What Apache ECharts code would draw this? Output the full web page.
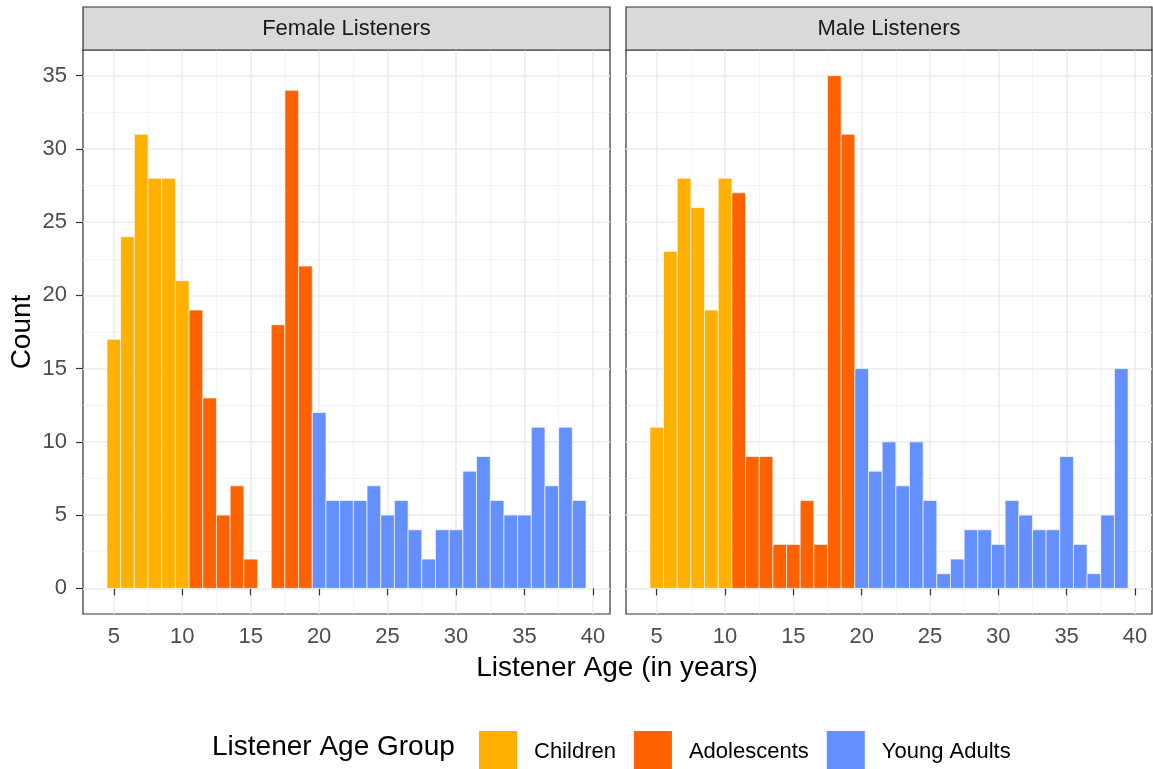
<!DOCTYPE html>
<html>
<head>
<meta charset="utf-8">
<script src="https://cdn.jsdelivr.net/npm/echarts@6/dist/echarts.min.js"></script>
<style>
html,body{margin:0;padding:0;background:#fff;}
#chart{width:1153px;height:769px;}
</style>
</head>
<body>
<div id="chart"></div>
<script>
// ---- data ----
const ages = [5,6,7,8,9,10,11,12,13,14,15,16,17,18,19,20,21,22,23,24,25,26,27,28,29,30,31,32,33,34,35,36,37,38,39];
const ageGroupOf = ['Children','Children','Children','Children','Children','Children',
  'Adolescents','Adolescents','Adolescents','Adolescents','Adolescents','Adolescents','Adolescents','Adolescents','Adolescents',
  'Young Adults','Young Adults','Young Adults','Young Adults','Young Adults','Young Adults','Young Adults','Young Adults','Young Adults','Young Adults',
  'Young Adults','Young Adults','Young Adults','Young Adults','Young Adults','Young Adults','Young Adults','Young Adults','Young Adults','Young Adults'];
const femaleCounts = [17,24,31,28,28,21,19,13,5,7,2,0,18,34,22,12,6,6,6,7,5,6,4,2,4,4,8,9,6,5,5,11,7,11,6];
const maleCounts   = [11,23,28,26,19,28,27,9,9,3,3,6,3,35,31,15,8,10,7,10,6,1,2,4,4,3,6,5,4,4,9,3,1,5,15];
const groups = ['Children','Adolescents','Young Adults'];
const groupColors = ['#FFB000','#FE6100','#648FFF'];
const panels = ['Female Listeners','Male Listeners'];
const xTicks = [5,10,15,20,25,30,35,40];
const xMinor = [7.5,12.5,17.5,22.5,27.5,32.5,37.5];
const yTicks = [0,5,10,15,20,25,30,35];
const yMinor = [2.5,7.5,12.5,17.5,22.5,27.5,32.5];

const FONT = '"Liberation Sans", Arial, Helvetica, sans-serif';
const chart = echarts.init(document.getElementById('chart'), null, {renderer:'canvas'});

const gridBoxes = [
  {left:83, top:50, width:527, height:564},
  {left:626, top:50, width:526, height:564}
];
const xMin = 2.75, xMax = 41.25, yMin = -1.75, yMax = 36.75;

const grids = gridBoxes.map(g => ({left:g.left, top:g.top, width:g.width, height:g.height,
  show:true, borderColor:'#333333', borderWidth:1.2, backgroundColor:'#fff', containLabel:false}));

const xAxes = [], yAxes = [];
gridBoxes.forEach((g, i) => {
  xAxes.push({type:'value', gridIndex:i, min:xMin, max:xMax,
    axisLine:{show:false},
    axisTick:{show:true, customValues:xTicks, length:7, lineStyle:{color:'#333333', width:1.2}},
    axisLabel:{show:true, customValues:xTicks, fontSize:22, color:'#4D4D4D', fontFamily:FONT, margin:12},
    splitLine:{show:true, lineStyle:{color:'#EBEBEB', width:1.5}}
  });
  xAxes.push({type:'value', gridIndex:i, min:xMin, max:xMax, position:'bottom',
    axisLine:{show:false},
    axisTick:{show:false, customValues:xMinor},
    axisLabel:{show:false, customValues:xMinor},
    splitLine:{show:true, lineStyle:{color:'#F0F0F0', width:0.8}}
  });
  yAxes.push({type:'value', gridIndex:i, min:yMin, max:yMax,
    axisLine:{show:false},
    axisTick:{show:i===0, customValues:yTicks, length:7, lineStyle:{color:'#333333', width:1.2}},
    axisLabel:{show:i===0, customValues:yTicks, fontSize:22, color:'#4D4D4D', fontFamily:FONT, margin:16},
    splitLine:{show:true, lineStyle:{color:'#EBEBEB', width:1.5}}
  });
  yAxes.push({type:'value', gridIndex:i, min:yMin, max:yMax,
    axisLine:{show:false},
    axisTick:{show:false, customValues:yMinor},
    axisLabel:{show:false, customValues:yMinor},
    splitLine:{show:true, lineStyle:{color:'#F0F0F0', width:0.8}}
  });
});

function renderBar(params, api) {
  const x = api.value(0), y = api.value(1);
  const p0 = api.coord([x - 0.5, y]);
  const p1 = api.coord([x + 0.5, 0]);
  return {type:'rect', shape:{x:p0[0], y:p0[1], width:p1[0]-p0[0], height:p1[1]-p0[1]},
    style:{fill:api.visual('color'), stroke:'rgba(255,255,255,0.65)', lineWidth:1}};
}

const series = [];
[femaleCounts, maleCounts].forEach((counts, pi) => {
  groups.forEach((gName, gi) => {
    const data = [];
    ages.forEach((a, k) => { if (ageGroupOf[k] === gName && counts[k] > 0) data.push([a, counts[k]]); });
    series.push({type:'custom', name:gName, xAxisIndex:pi*2, yAxisIndex:pi*2,
      itemStyle:{color:groupColors[gi]}, renderItem:renderBar, data:data, encode:{x:0, y:1}, z:3});
  });
});

const graphics = [];
gridBoxes.forEach((g, i) => {
  graphics.push({type:'rect', shape:{x:g.left, y:7, width:g.width, height:g.top-7},
    style:{fill:'#D9D9D9', stroke:'#333333', lineWidth:1.2}, z:10});
  graphics.push({type:'text', x:g.left + g.width/2, y:(7+g.top)/2,
    style:{text:panels[i], fontSize:22, fill:'#1A1A1A', fontFamily:FONT, align:'center', verticalAlign:'middle'}, z:11});
});
graphics.push({type:'text', x:617, y:668, style:{text:'Listener Age (in years)', fontSize:28, fill:'#000', fontFamily:FONT, align:'center', verticalAlign:'middle'}});
graphics.push({type:'text', x:22, y:332, rotation:Math.PI/2, style:{text:'Count', fontSize:28, fill:'#000', fontFamily:FONT, align:'center', verticalAlign:'middle'}});
graphics.push({type:'text', x:212, y:747, style:{text:'Listener Age Group', fontSize:28, fill:'#000', fontFamily:FONT, align:'left', verticalAlign:'middle'}});

chart.setOption({
  animation:false,
  backgroundColor:'#fff',
  grid:grids,
  xAxis:xAxes,
  yAxis:yAxes,
  legend:{data:groups.map((g, i) => ({name:g, icon:'rect', itemStyle:{color:groupColors[i]}})),
    left:474, top:726, itemWidth:38, itemHeight:42, itemGap:18, selectedMode:false,
    textStyle:{fontSize:22, color:'#000', fontFamily:FONT, padding:[0,0,0,12]}},
  series:series,
  graphic:graphics
});
</script>
</body>
</html>
